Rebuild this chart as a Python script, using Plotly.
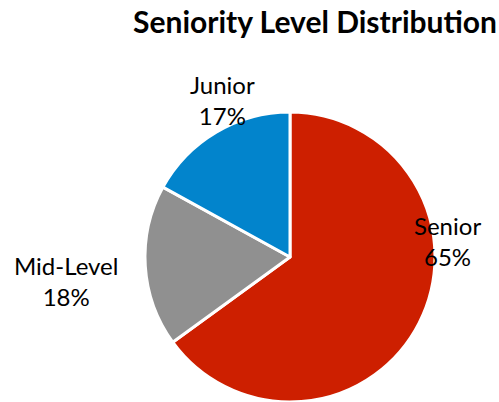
import plotly.graph_objects as go

categories = ["Senior", "Mid-Level", "Junior"]
values = [65, 18, 17]
colors = ["#CD1F00", "#909090", "#0284CC"]
title_text = "Seniority Level Distribution"

W, H = 499, 402
cx, cy, r = 290, 258, 146

fig = go.Figure(go.Pie(
    labels=categories,
    values=values,
    sort=False,
    direction="clockwise",
    rotation=0,
    marker=dict(colors=colors, line=dict(color="white", width=3)),
    textinfo="none",
    hoverinfo="label+percent",
    showlegend=False,
    domain=dict(x=[(cx - r) / W, (cx + r) / W], y=[0, (H - cy + r) / H]),
))

total = sum(values)
label_pos = {"Senior": (447, 241), "Mid-Level": (66, 281), "Junior": (222, 100)}
for cat, val in zip(categories, values):
    px, py = label_pos[cat]
    fig.add_annotation(
        x=px / W, y=1 - py / H, xref="paper", yref="paper",
        text=f"{cat}<br>{round(100 * val / total)}%",
        showarrow=False, xanchor="center", yanchor="middle",
        font=dict(family="Lato", size=24, color="#000000"),
    )

fig.update_layout(
    width=W, height=H,
    margin=dict(l=0, r=0, t=0, b=0),
    paper_bgcolor="white", plot_bgcolor="white",
    title=dict(text=f"<b>{title_text}</b>", x=315 / W, xanchor="center",
               y=1 - 22 / H, yanchor="middle", xref="paper",
               font=dict(family="Lato", size=30, color="#000000")),
)

fig.write_html("out.html", config={"displayModeBar": False},
               post_script="document.body.style.margin='0';")
